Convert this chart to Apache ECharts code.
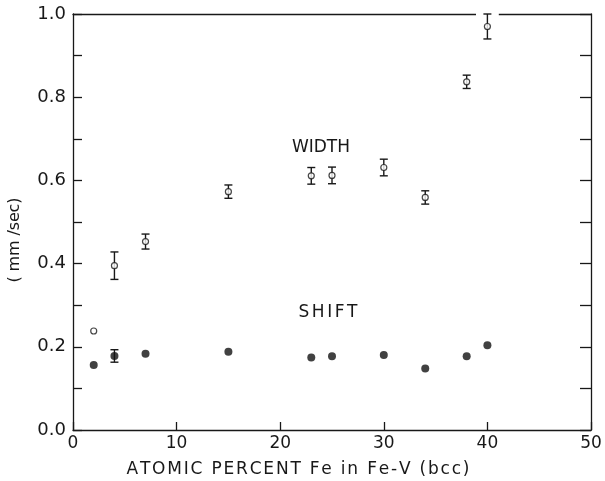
<!DOCTYPE html>
<html>
<head>
<meta charset="utf-8">
<script src="https://cdn.jsdelivr.net/npm/echarts@6/dist/echarts.min.js"></script>
<style>
  html, body { margin: 0; padding: 0; background: #fff; }
  #chart { width: 605px; height: 481px; }
</style>
</head>
<body>
<div id="chart"></div>
<script>
// Atomic percent Fe in Fe-V (bcc)
const composition = [2, 4, 7, 15, 23, 25, 30, 34, 38, 40];
// Line width (mm/sec) and its uncertainty; the 2% point has no bar
const widthValues = [0.238, 0.395, 0.453, 0.573, 0.611, 0.612, 0.631, 0.559, 0.837, 0.970];
const widthErrors = [0, 0.033, 0.018, 0.016, 0.020, 0.020, 0.020, 0.016, 0.016, 0.030];
// Isomer shift (mm/sec) and its uncertainty
const shiftValues = [0.156, 0.178, 0.183, 0.188, 0.174, 0.177, 0.180, 0.148, 0.177, 0.204];
const shiftErrors = [0, 0.015, 0, 0, 0, 0, 0, 0, 0, 0];
// Break in the top frame where the 40% bar reaches it
const frameBreak = [38.9, 41.1];

const ink = '#181818';
const fontFamily = 'DejaVu Sans';

const pts = (ys) => composition.map((x, i) => [x, ys[i]]);
const bars = (ys, es) => composition
  .map((x, i) => [x, ys[i] - es[i], ys[i] + es[i]])
  .filter((d, i) => es[i] > 0);

function errorBar(params, api) {
  const x = api.value(0);
  const lo = api.coord([x, api.value(1)]);
  const hi = api.coord([x, api.value(2)]);
  const cap = 4;
  const style = { stroke: ink, lineWidth: 1.4 };
  return {
    type: 'group',
    children: [
      { type: 'line', shape: { x1: lo[0], y1: lo[1], x2: hi[0], y2: hi[1] }, style },
      { type: 'line', shape: { x1: lo[0] - cap, y1: lo[1], x2: lo[0] + cap, y2: lo[1] }, style },
      { type: 'line', shape: { x1: hi[0] - cap, y1: hi[1], x2: hi[0] + cap, y2: hi[1] }, style }
    ]
  };
}

// Letter-spaced lettering: one text element per character, spread to a set length
const measureCtx = document.createElement('canvas').getContext('2d');
function spacedText(str, size, length, cx, cy, rotation) {
  const font = size + 'px "' + fontFamily + '"';
  measureCtx.font = font;
  const widths = Array.from(str).map((ch) => measureCtx.measureText(ch).width);
  const natural = widths.reduce((a, b) => a + b, 0);
  const gap = (length - natural) / (str.length - 1);
  let pos = -length / 2;
  const children = Array.from(str).map((ch, i) => {
    const el = {
      type: 'text', x: pos, y: 0,
      style: { text: ch, fill: ink, font, align: 'left', verticalAlign: 'middle' }
    };
    pos += widths[i] + gap;
    return el;
  });
  return { type: 'group', x: cx, y: cy, rotation: rotation || 0, children };
}

const chart = echarts.init(document.getElementById('chart'), null, { renderer: 'canvas' });

const axisLine = { show: true, onZero: false, lineStyle: { color: ink, width: 1.3 } };

chart.setOption({
  backgroundColor: '#fff',
  animation: false,
  grid: { left: 73, right: 14, top: 14, bottom: 51 },
  xAxis: [
    {
      type: 'value', position: 'bottom', min: 0, max: 50, interval: 10,
      axisLine,
      axisTick: { show: true, inside: true, length: 8, lineStyle: { color: ink, width: 1.3 } },
      axisLabel: { color: ink, fontFamily, fontSize: 17, margin: 5 },
      splitLine: { show: false }
    },
    {
      type: 'value', position: 'top', min: 0, max: 50, interval: 10,
      axisLine, axisTick: { show: false }, axisLabel: { show: false }, splitLine: { show: false }
    }
  ],
  yAxis: [
    {
      type: 'value', position: 'left', min: 0, max: 1, interval: 0.1,
      axisLine,
      axisTick: { show: true, inside: true, length: 9, lineStyle: { color: ink, width: 1.3 } },
      axisLabel: {
        color: ink, fontFamily, fontSize: 18, margin: 7,
        formatter: (v) => (Math.round(v * 10) % 2 === 0 ? v.toFixed(1) : '')
      },
      splitLine: { show: false }
    },
    {
      type: 'value', position: 'right', min: 0, max: 1, interval: 0.1,
      axisLine,
      axisTick: { show: true, inside: true, length: 11, lineStyle: { color: ink, width: 1.3 } },
      axisLabel: { show: false },
      splitLine: { show: false }
    }
  ],
  series: [
    {
      name: 'frame break', type: 'line', xAxisIndex: 1, yAxisIndex: 0,
      data: [[frameBreak[0], 1], [frameBreak[1], 1]],
      symbol: 'none', silent: true, z: 1,
      lineStyle: { color: '#fff', width: 4 }
    },
    {
      name: 'width error', type: 'custom', renderItem: errorBar,
      data: bars(widthValues, widthErrors), z: 3, silent: true
    },
    {
      name: 'shift error', type: 'custom', renderItem: errorBar,
      data: bars(shiftValues, shiftErrors), z: 3, silent: true
    },
    {
      name: 'WIDTH', type: 'scatter', data: pts(widthValues),
      symbol: 'circle', symbolSize: 6, z: 4,
      itemStyle: { color: '#fff', borderColor: ink, borderWidth: 1.2 }
    },
    {
      name: 'SHIFT', type: 'scatter', data: pts(shiftValues),
      symbol: 'circle', symbolSize: 8, z: 4,
      itemStyle: { color: '#111' }
    }
  ],
  graphic: [
    spacedText('ATOMIC PERCENT Fe in Fe-V (bcc)', 17, 343, 298, 470),
    spacedText('( mm /sec)', 16, 85, 15, 240, Math.PI / 2),
    spacedText('WIDTH', 17, 58, 321, 148),
    spacedText('SHIFT', 17, 59, 328, 313)
  ]
});
</script>
</body>
</html>
